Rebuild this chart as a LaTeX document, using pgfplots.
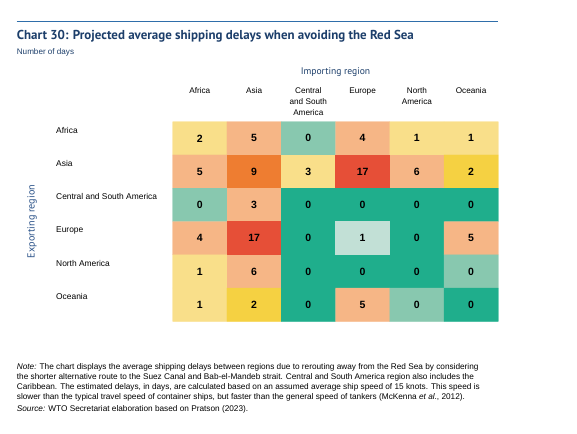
\documentclass[border=0pt]{standalone}
\usepackage{fontspec}
\setmainfont{Liberation Sans}
\newfontfamily\titlefont{PT Sans}
\usepackage{pgfplots}
\usepackage{pgfplotstable}
\pgfplotsset{compat=1.18}
\definecolor{navy}{RGB}{28,62,106}
\definecolor{rule}{RGB}{47,110,170}
\definecolor{lblue}{RGB}{40,80,135}
\pgfplotstableread{
x y c v
0 0 3 2
1 0 5 5
2 0 1 0
3 0 5 4
4 0 3 1
5 0 3 1
0 1 5 5
1 1 6 9
2 1 3 3
3 1 7 17
4 1 5 6
5 1 4 2
0 2 1 0
1 2 5 3
2 2 0 0
3 2 0 0
4 2 0 0
5 2 0 0
0 3 5 4
1 3 7 17
2 3 0 0
3 3 2 1
4 3 0 0
5 3 5 5
0 4 3 1
1 4 5 6
2 4 0 0
3 4 0 0
4 4 0 0
5 4 1 0
0 5 3 1
1 5 4 2
2 5 0 0
3 5 5 5
4 5 1 0
5 5 0 0
}\cells
\begin{document}
\begin{tikzpicture}
\useasboundingbox (0,0) rectangle (577bp,-434bp);
\draw[rule, line width=1bp] (16.7bp,-21.7bp) -- (498.3bp,-21.7bp);
\node[anchor=base west, inner sep=0, text=navy, font=\titlefont\bfseries\fontsize{12.95bp}{14bp}\selectfont] at (16.7bp,-39.3bp) {Chart 30: Projected average shipping delays when avoiding the Red Sea};
\node[anchor=base west, inner sep=0, text=navy, font=\fontsize{8.1bp}{9bp}\selectfont] at (16.7bp,-54bp) {Number of days};
\node[anchor=center, inner sep=0, text=navy, font=\titlefont\fontsize{9.6bp}{10bp}\selectfont] at (335.5bp,-71.7bp) {Importing region};
\node[anchor=center, inner sep=0, rotate=90, text=lblue, font=\titlefont\fontsize{10.2bp}{10bp}\selectfont] at (32bp,-221.5bp) {Exporting region};
\begin{scope}[every node/.style={anchor=north, inner sep=0, align=center, font=\fontsize{8.2bp}{11bp}\selectfont}]
\node at (199.8bp,-87.5bp) {Africa};
\node at (254.1bp,-87.5bp) {Asia};
\node at (308.3bp,-87.5bp) {Central\\and South\\America};
\node at (362.6bp,-87.5bp) {Europe};
\node at (416.9bp,-87.5bp) {North\\America};
\node at (471.1bp,-87.5bp) {Oceania};
\end{scope}
\begin{scope}[every node/.style={anchor=west, inner sep=0, font=\fontsize{8.4bp}{9bp}\selectfont}]
\node at (56bp,-130bp) {Africa};
\node at (56bp,-163.5bp) {Asia};
\node at (56bp,-196.8bp) {Central and South America};
\node at (56bp,-230bp) {Europe};
\node at (56bp,-263.5bp) {North America};
\node at (56bp,-296.8bp) {Oceania};
\end{scope}
\begin{axis}[
  at={(172.7bp,-321.3bp)}, anchor=south west,
  width=325.6bp, height=199.6bp, scale only axis,
  xmin=-0.5, xmax=5.5, ymin=-0.5, ymax=5.5, y dir=reverse,
  hide axis,
  colormap={cells}{rgb255=(31,174,140) rgb255=(136,200,175) rgb255=(194,224,214) rgb255=(249,223,138) rgb255=(245,209,66) rgb255=(246,182,134) rgb255=(238,125,49) rgb255=(230,79,55)},
  colormap access=direct,
]
\addplot[matrix plot*, mesh/cols=6, point meta=explicit] table[x=x, y=y, meta=c] {\cells};
\addplot[draw=none, mark=none, nodes near coords, point meta=explicit symbolic,
  nodes near coords style={anchor=center, inner sep=0, text=black, font=\bfseries\fontsize{10.5bp}{11bp}\selectfont}]
  table[x=x, y=y, meta=v] {\cells};
\end{axis}
\node[anchor=north west, inner sep=0, align=left, font=\fontsize{8.25bp}{9.9bp}\selectfont] at (16.7bp,-363.5bp) {\textit{Note:} The chart displays the average shipping delays between regions due to rerouting away from the Red Sea by considering\\
the shorter alternative route to the Suez Canal and Bab-el-Mandeb strait. Central and South America region also includes the\\
Caribbean. The estimated delays, in days, are calculated based on an assumed average ship speed of 15 knots. This speed is\\
slower than the typical travel speed of container ships, but faster than the general speed of tankers (McKenna \textit{et al}., 2012).\\[1.8bp]
\textit{Source:} WTO Secretariat elaboration based on Pratson (2023).};
\end{tikzpicture}
\end{document}
